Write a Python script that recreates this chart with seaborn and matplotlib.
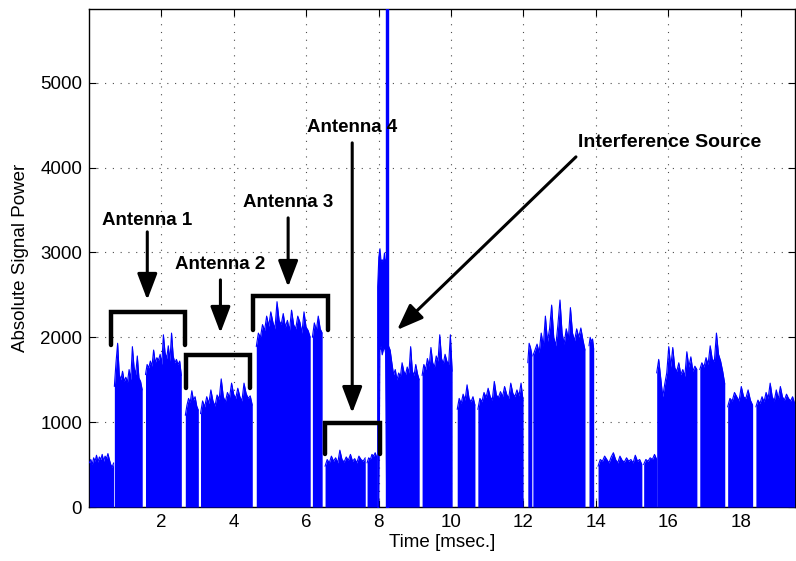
import numpy as np
import pandas as pd
import matplotlib
matplotlib.use("Agg")
import matplotlib.pyplot as plt
import seaborn as sns

# segment spans in msec and the top envelope
seg_start = [0.01, 0.70, 1.56, 2.66, 3.08, 4.62, 6.17, 6.52, 7.68,
             8.27, 9.20, 10.17, 10.74, 12.12, 12.26, 13.81, 14.06, 15.32,
             15.68, 16.87, 17.64, 18.42]
seg_end = [0.68, 1.47, 2.55, 3.02, 4.51, 6.11, 6.44, 7.63, 7.95,
           9.12, 10.03, 10.66, 11.99, 12.23, 13.70, 13.94, 15.27, 15.68,
           16.79, 17.56, 18.33, 19.49]

env_a = [520, 560, 500, 580, 540, 610, 530, 590, 560, 620, 540, 600, 570, 630, 560, 500, 470, 520]
env_b = [1420, 1700, 1930, 1560, 1500, 1600, 1480, 1530, 1470, 1620, 1500, 1890, 1650, 1560, 1780, 1520, 1480, 1380]
env_c = [1560, 1680, 1640, 1720, 1660, 1850, 1700, 1760, 1730, 1800, 1680, 2030, 1820, 1750, 1900, 1720,
         2050, 1780, 1700, 1740, 1680, 1720, 1550]
env_d = [1080, 1200, 1280, 1230, 1370, 1260, 1300, 1190, 1140]
env_e = [1100, 1250, 1180, 1300, 1220, 1380, 1250, 1190, 1320, 1270, 1510, 1300, 1240, 1350, 1290, 1460,
         1330, 1280, 1400, 1300, 1250, 1460, 1340, 1280, 1310, 1200]
env_f = [1890, 2050, 2000, 2150, 2080, 2250, 2130, 2300, 2180, 2100, 2420, 2200, 2150, 2280, 2120, 2200,
         2080, 2320, 2150, 2100, 2250, 2180, 2050, 2300, 2120, 2080, 2000]
env_g = [2000, 2170, 2080, 2250, 2100, 2050]
env_h = [480, 560, 520, 600, 540, 580, 520, 670, 560, 530, 590, 550, 620, 540, 570, 520, 600, 560, 540, 580]
env_i = [520, 580, 560, 620, 600, 640, 580]
env_j = [1900, 1850, 1700, 1560, 1620, 1500, 1580, 1540, 1700, 1600, 1560, 1650, 1580, 1890, 1600, 1550,
         1680, 1570, 1500]
env_k = [1550, 1680, 1620, 1750, 1660, 1880, 1700, 1650, 1780, 1720, 2030, 1750, 1690, 1800, 1720, 1680,
         2030, 1600]
env_l = [1150, 1280, 1220, 1330, 1260, 1440, 1280, 1240, 1300, 1200]
env_m = [1150, 1280, 1240, 1350, 1290, 1400, 1300, 1260, 1480, 1320, 1290, 1360, 1300, 1420, 1330, 1280,
         1460, 1340, 1300, 1380, 1310, 1460, 1250]
env_n = [1700, 1930, 1880, 1800]
env_o = [1780, 1850, 1920, 1820, 2050, 1900, 2250, 1950, 2100, 2380, 2000, 1900, 2150, 2440, 2050, 1920,
         2100, 1980, 2350, 2050, 1960, 2100, 2000, 2110, 1970, 1850]
env_p = [1900, 2000, 1950, 1980, 1860]
env_q = [480, 560, 540, 600, 560, 520, 590, 640, 560, 520, 600, 550, 530, 580, 540, 560, 520, 610, 540, 560, 500]
env_r = [500, 560, 540, 580, 560, 620, 560]
env_s = [1580, 1740, 1520, 1300, 1450, 1580, 1890, 1650, 1880, 1640, 1600, 1700, 1560, 1620, 1540, 1830,
         1650, 1770, 1600, 1660, 1620]
env_t = [1620, 1700, 1650, 1760, 1680, 1900, 1740, 1720, 2050, 1800, 1720, 1600, 1450]
env_u = [1180, 1280, 1250, 1350, 1300, 1250, 1420, 1300, 1280, 1380, 1260, 1200]
env_v = [1180, 1260, 1220, 1300, 1240, 1350, 1280, 1460, 1300, 1250, 1380, 1270, 1420, 1300, 1260, 1330,
         1280, 1250, 1300, 1220]
envelopes = [env_a, env_b, env_c, env_d, env_e, env_f, env_g, env_h, env_i, env_j, env_k,
             env_l, env_m, env_n, env_o, env_p, env_q, env_r, env_s, env_t, env_u, env_v]

# interference burst: band with a raised floor, then the narrow spike
burst_start, burst_end = 7.96, 8.21
burst_top = [2600, 2950, 3050, 2900, 2920, 2880, 3000, 2870, 2950]
burst_floor = [0, 0, 1850, 1900, 1800, 1850, 1900, 1820, 0]
spike_start, spike_end = 8.20, 8.27
spike_top = 6500

# annotations: label, x, text y, arrow start y, arrow end y
ant_labels = ["Antenna 1", "Antenna 2", "Antenna 3", "Antenna 4"]
ant_x = [1.61, 3.63, 5.50, 7.27]
ant_text_y = [3373, 2854, 3585, 4469]
ant_arrow_from = [3243, 2677, 3408, 4292]
ant_arrow_to = [2441, 2052, 2594, 1108]

# brackets: left x, right x, top y, bottom y
br_left = [0.60, 2.69, 4.54, 6.52]
br_right = [2.66, 4.46, 6.61, 8.04]
br_top = [2300, 1790, 2490, 990]
br_bottom = [1910, 1400, 2090, 620]

sns.set_style("ticks")
plt.rcParams['font.family'] = ['Liberation Sans', 'DejaVu Sans']
plt.rcParams.update({"text.color": "black", "axes.labelcolor": "black",
                     "xtick.color": "black", "ytick.color": "black"})

rows = []
for k, (s, e, env) in enumerate(zip(seg_start, seg_end, envelopes)):
    for t, v in zip(np.linspace(s, e, len(env)), env):
        rows.append({"seg": k, "time": t, "power": v})
df = pd.DataFrame(rows)

fig = plt.figure(figsize=(7.96, 5.61), dpi=100)
ax = fig.add_axes([89 / 796, 54 / 561, 706 / 796, 498 / 561])

blue = "#0000ff"
sns.lineplot(data=df, x="time", y="power", units="seg", estimator=None,
             color=blue, lw=0.8, ax=ax, zorder=3)
for k, g in df.groupby("seg"):
    ax.fill_between(g["time"], 0, g["power"], color=blue, lw=0, zorder=3)

bt = np.linspace(burst_start, burst_end, len(burst_top))
ax.fill_between(bt, burst_floor, burst_top, color=blue, lw=0.8, edgecolor=blue, zorder=3)
ax.fill_between([spike_start, spike_end], 0, spike_top, color=blue, lw=1.0,
                edgecolor=blue, zorder=3)

ax.set_xlim(0, 19.5)
ax.set_ylim(0, 5870)
ax.set_xticks([2, 4, 6, 8, 10, 12, 14, 16, 18])
ax.set_yticks([0, 1000, 2000, 3000, 4000, 5000])
ax.grid(True, color="0.3", linestyle=(0, (1, 6)), lw=0.8)
ax.set_axisbelow(True)
ax.tick_params(direction="in", length=5, top=True, right=True, labelsize=13.5, pad=5)
for sp in ax.spines.values():
    sp.set_linewidth(1.0)
    sp.set_color("black")
ax.set_xlabel("Time [msec.]", fontsize=13.5, labelpad=2)
ax.set_ylabel("Absolute Signal Power", fontsize=13.5, labelpad=8)

for x0, x1, yt, yb in zip(br_left, br_right, br_top, br_bottom):
    ax.plot([x0, x0, x1, x1], [yb, yt, yt, yb], color="black", lw=3.2,
            solid_joinstyle="miter", zorder=5, clip_on=False)

arrow = dict(arrowstyle="-|>,head_length=1.0,head_width=0.38", color="black",
             lw=2.2, mutation_scale=16, shrinkA=0, shrinkB=0)
for lab, x, ty, ya, yb in zip(ant_labels, ant_x, ant_text_y, ant_arrow_from, ant_arrow_to):
    ax.text(x, ty, lab, ha="center", va="center", fontsize=13.5, fontweight="bold", zorder=6)
    ax.annotate("", xy=(x, yb), xytext=(x, ya), arrowprops=arrow, zorder=6)

ax.text(16.04, 4292, "Interference Source", ha="center", va="center",
        fontsize=14, fontweight="bold", zorder=6)
ax.annotate("", xy=(8.51, 2087), xytext=(13.45, 4127), arrowprops=arrow, zorder=6)

fig.savefig("out.png", dpi=100)
